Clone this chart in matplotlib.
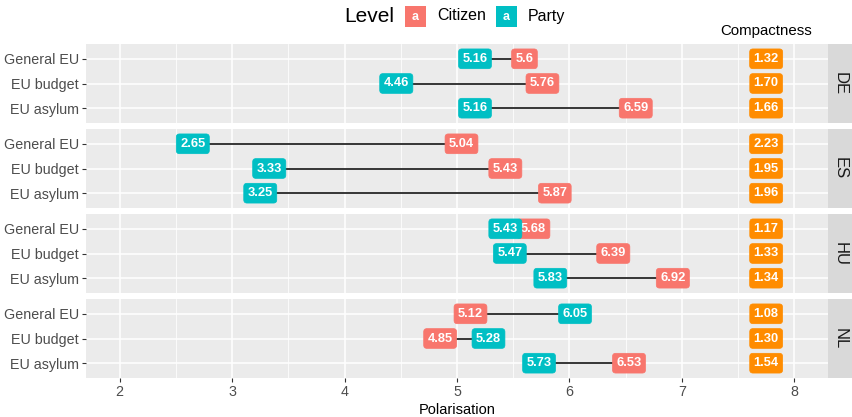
import numpy as np
import matplotlib
matplotlib.use('Agg')
import matplotlib.pyplot as plt
from matplotlib.patches import Rectangle

plt.rcParams['font.family'] = ['Liberation Sans', 'DejaVu Sans']

countries = ['DE', 'ES', 'HU', 'NL']
issues = ['General EU', 'EU budget', 'EU asylum']
citizen = [[5.6, 5.76, 6.59],
           [5.04, 5.43, 5.87],
           [5.68, 6.39, 6.92],
           [5.12, 4.85, 6.53]]
party = [[5.16, 4.46, 5.16],
         [2.65, 3.33, 3.25],
         [5.43, 5.47, 5.83],
         [6.05, 5.28, 5.73]]
compactness = [['1.32', '1.70', '1.66'],
               ['2.23', '1.95', '1.96'],
               ['1.17', '1.33', '1.34'],
               ['1.08', '1.30', '1.54']]
xticks = [2, 3, 4, 5, 6, 7, 8]

C_CIT = '#F8766D'
C_PAR = '#00BFC4'
C_CMP = '#FF8C00'
W, H = 853, 417

fig = plt.figure(figsize=(W / 100, H / 100), dpi=100)

panel_tops = [44, 129, 214, 299]
panel_h = 79
left, right = 86, 828


def lab(ax, x, y, s, col):
    ax.text(x, y, s, ha='center', va='center', color='white', fontsize=9.3,
            fontweight='bold', zorder=5,
            bbox=dict(boxstyle='round,pad=0.3,rounding_size=0.25',
                      fc=col, ec=col, lw=0.5))


for i, c in enumerate(countries):
    top = panel_tops[i]
    ax = fig.add_axes([left / W, 1 - (top + panel_h) / H, (right - left) / W, panel_h / H])
    ax.set_facecolor('#EBEBEB')
    for s in ax.spines.values():
        s.set_visible(False)
    ax.set_xlim(1.7, 8.3)
    ax.set_ylim(3.6, 0.4)
    ax.set_xticks(xticks)
    ax.set_xticks(np.arange(2.5, 8.5, 1.0), minor=True)
    ax.set_yticks([1, 2, 3])
    ax.set_yticklabels(issues)
    ax.grid(True, which='major', color='white', lw=1.1)
    ax.grid(True, which='minor', axis='x', color='white', lw=0.55)
    ax.set_axisbelow(True)
    ax.tick_params(axis='both', which='major', length=3, color='#333333',
                   labelcolor='#4D4D4D', labelsize=10.3, width=0.8, pad=2)
    ax.tick_params(axis='both', which='minor', length=0)
    if i < 3:
        ax.tick_params(axis='x', which='major', length=0, labelbottom=False)
    else:
        ax.set_xlabel('Polarisation', fontsize=10.5, labelpad=3)
    for j in range(3):
        y = j + 1
        ax.plot([citizen[i][j], party[i][j]], [y, y], color='black', lw=1.1, zorder=3)
        lab(ax, citizen[i][j], y, '%g' % citizen[i][j], C_CIT)
        lab(ax, party[i][j], y, '%g' % party[i][j], C_PAR)
        lab(ax, 7.75, y, compactness[i][j], C_CMP)

    sx = fig.add_axes([right / W, 1 - (top + panel_h) / H, (W - right) / W, panel_h / H])
    sx.set_facecolor('#D9D9D9')
    sx.set_xticks([])
    sx.set_yticks([])
    for s in sx.spines.values():
        s.set_visible(False)
    sx.text(0.5, 0.5, c, rotation=-90, ha='center', va='center', fontsize=12,
            color='#1A1A1A', transform=sx.transAxes)

# compactness header
fig.text(766 / W, 1 - 31 / H, 'Compactness', ha='center', va='center', fontsize=10.8)

# legend on top
fig.text(344 / W, 1 - 16 / H, 'Level', ha='left', va='center', fontsize=15)
for x0, col, name in [(405, C_CIT, 'Citizen'), (496, C_PAR, 'Party')]:
    fig.patches.append(Rectangle((x0 / W, 1 - 27 / H), 21 / W, 21 / H,
                                 transform=fig.transFigure, fc=col, ec='none'))
    fig.text((x0 + 10.5) / W, 1 - 16.5 / H, 'a', ha='center', va='center',
             color='white', fontsize=9, fontweight='bold')
    fig.text((x0 + 32) / W, 1 - 16 / H, name, ha='left', va='center', fontsize=11.5)

fig.savefig('out.png', dpi=100)
